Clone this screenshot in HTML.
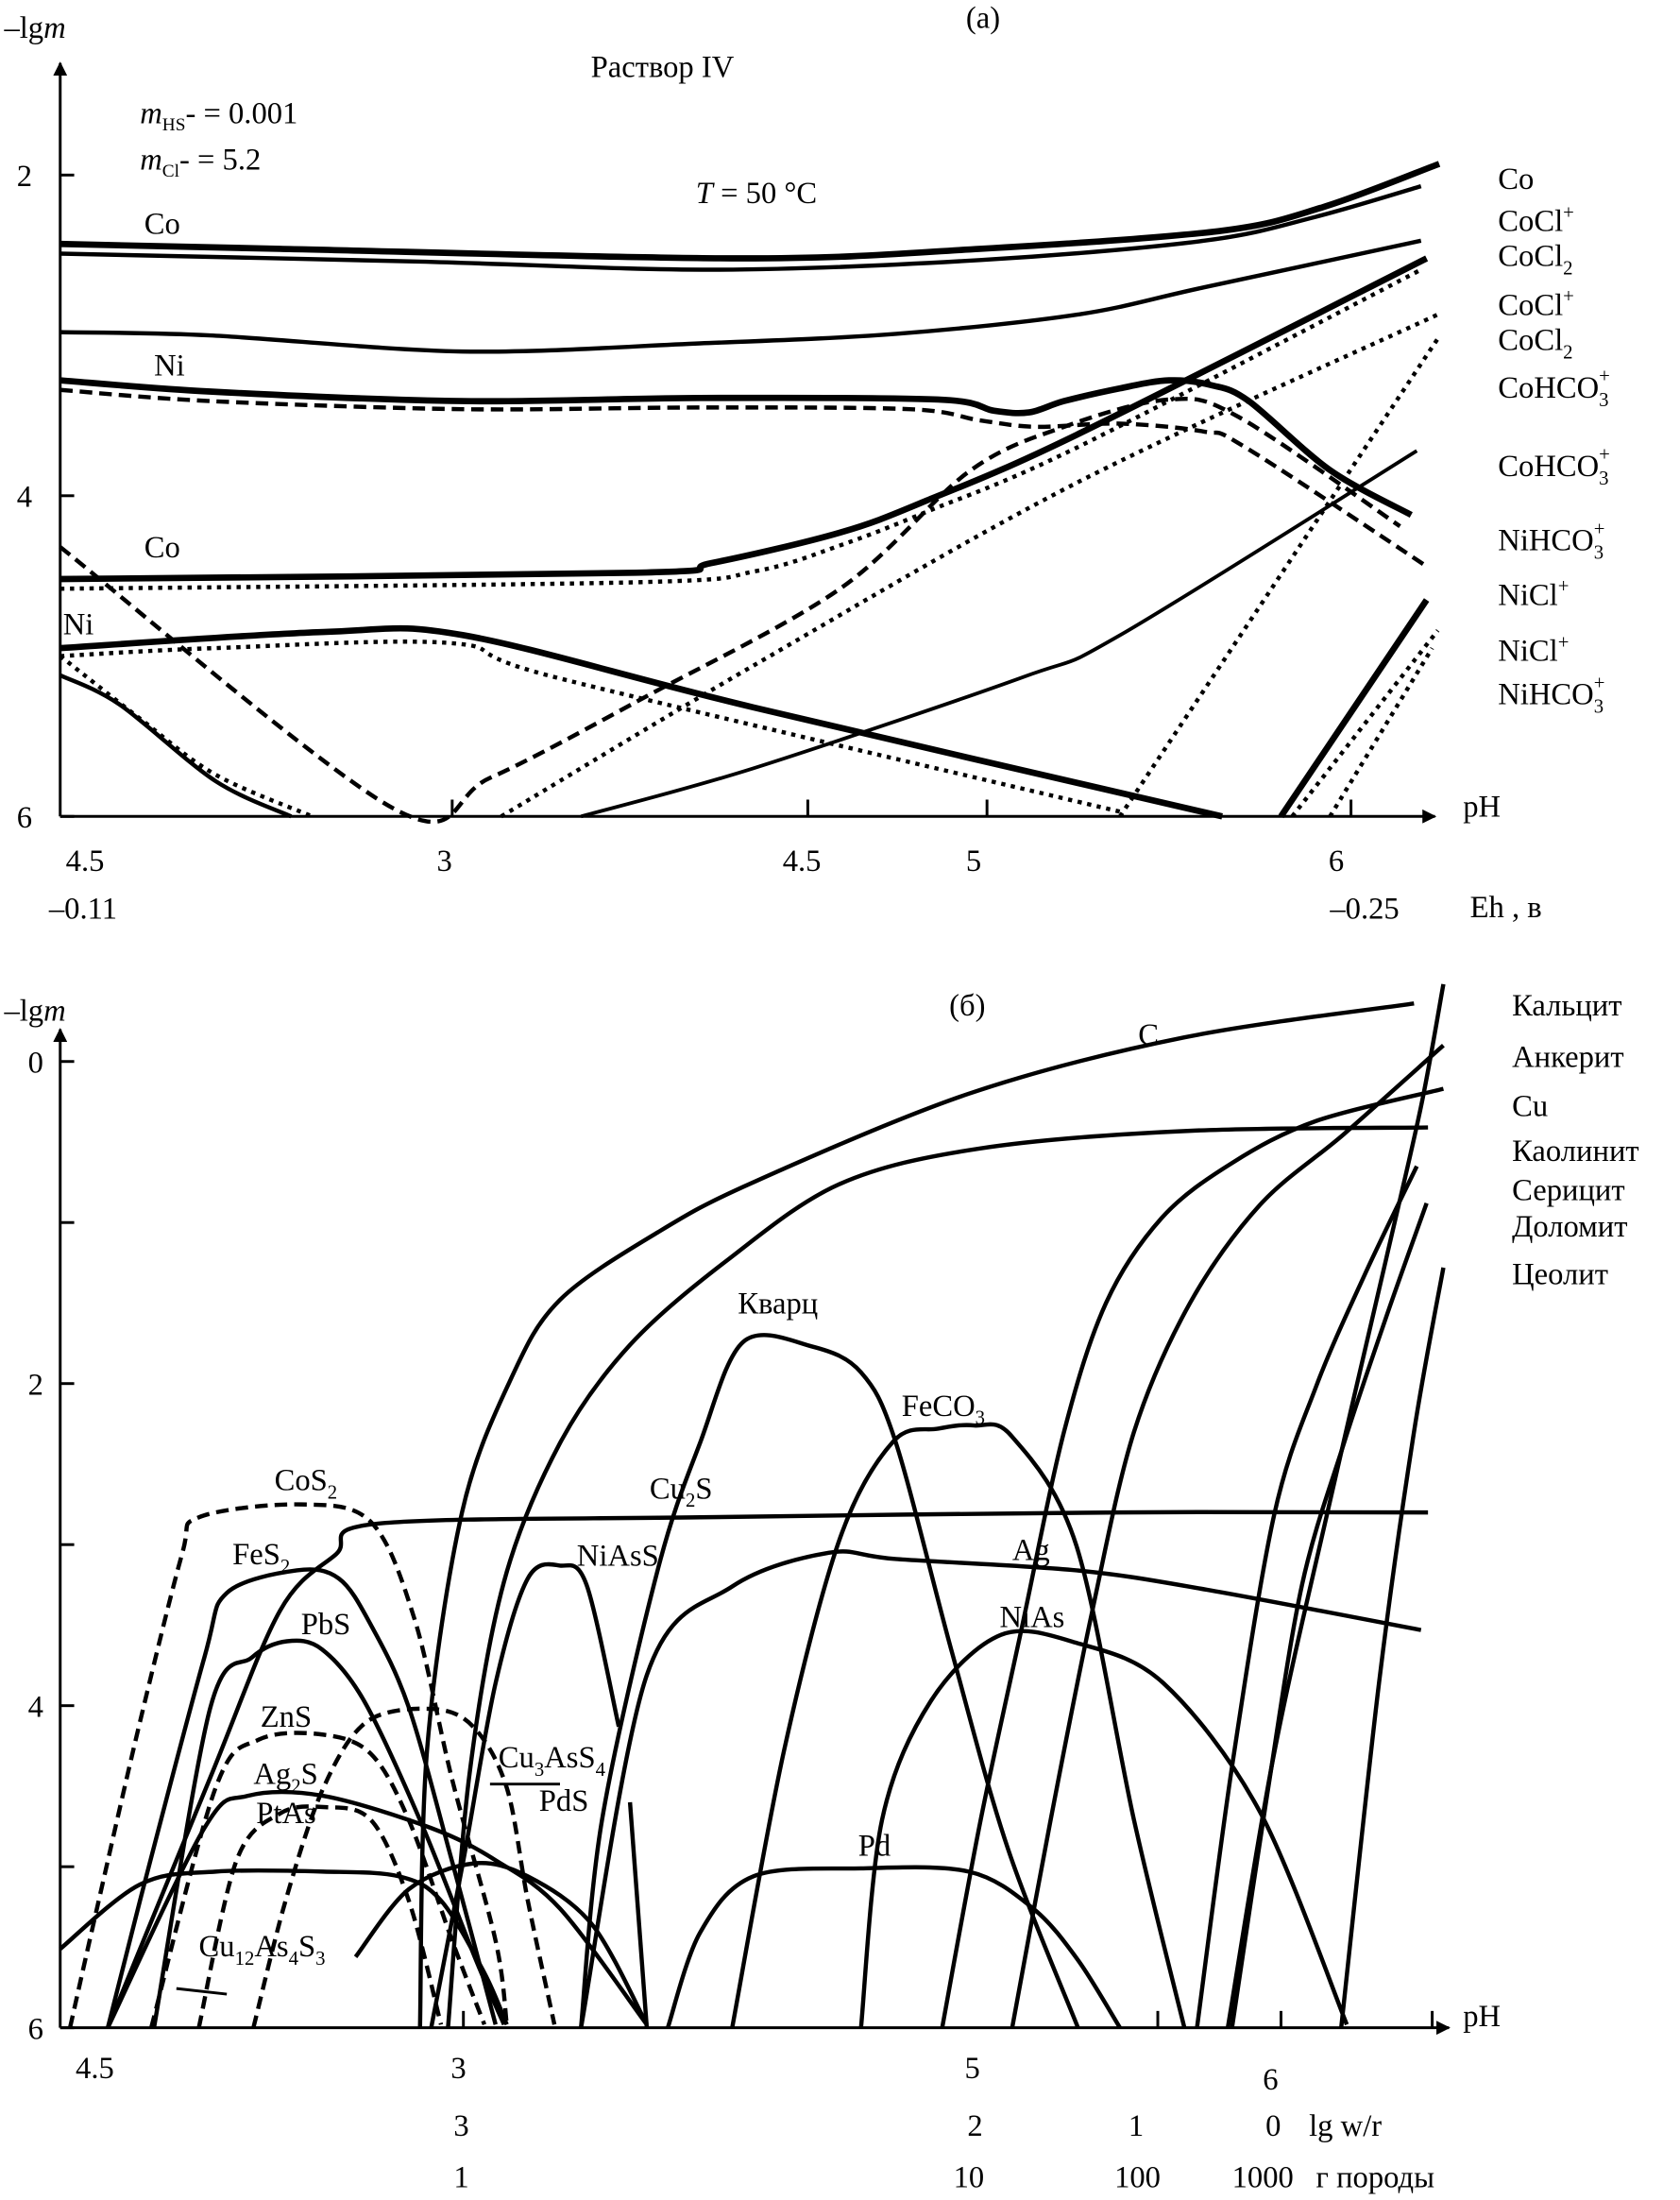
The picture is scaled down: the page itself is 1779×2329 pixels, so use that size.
<!DOCTYPE html>
<html><head><meta charset="utf-8"><style>
html,body{margin:0;padding:0;background:#fff}
svg{display:block}
text{font-family:"Liberation Serif","DejaVu Serif",serif;fill:#000}
</style></head><body>
<svg id="fig" width="1779" height="2329" viewBox="0 0 1200 1571" preserveAspectRatio="none" xmlns="http://www.w3.org/2000/svg">
<defs><marker id="arr" viewBox="0 0 10 10" refX="9" refY="5" markerWidth="10" markerHeight="10" markerUnits="userSpaceOnUse" orient="auto"><path d="M0,0 L10,5 L0,10 z" fill="#000"/></marker></defs>
<g id="chartA"></g>
<g id="chartB"></g>
<g font-size="22">
<text x="690" y="20">(a)</text>
<text x="3" y="27">–lg<tspan font-style="italic">m</tspan></text>
<text x="422" y="55">Раствор IV</text>
<text x="100" y="88"><tspan font-style="italic">m</tspan><tspan font-size="13" dy="5">HS</tspan><tspan dy="-5">- = 0.001</tspan></text>
<text x="100" y="121"><tspan font-style="italic">m</tspan><tspan font-size="13" dy="5">Cl</tspan><tspan dy="-5">- = 5.2</tspan></text>
<text x="497" y="145"><tspan font-style="italic">T</tspan> = 50 °C</text>
<text x="103" y="167">Co</text>
<text x="110" y="268">Ni</text>
<text x="103" y="398">Co</text>
<text x="45" y="453">Ni</text>
<g>
<text x="1070" y="135">Co</text>
<text x="1070" y="165">CoCl<tspan font-size="14" dy="-9">+</tspan></text>
<text x="1070" y="190">CoCl<tspan font-size="14" dy="6">2</tspan></text>
<text x="1070" y="225">CoCl<tspan font-size="14" dy="-9">+</tspan></text>
<text x="1070" y="250">CoCl<tspan font-size="14" dy="6">2</tspan></text>
<text x="1070" y="284">CoHCO<tspan font-size="14" dy="6">3</tspan><tspan font-size="14" dx="-7" dy="-17">+</tspan></text>
<text x="1070" y="340">CoHCO<tspan font-size="14" dy="6">3</tspan><tspan font-size="14" dx="-7" dy="-17">+</tspan></text>
<text x="1070" y="393">NiHCO<tspan font-size="14" dy="6">3</tspan><tspan font-size="14" dx="-7" dy="-17">+</tspan></text>
<text x="1070" y="432">NiCl<tspan font-size="14" dy="-9">+</tspan></text>
<text x="1070" y="472">NiCl<tspan font-size="14" dy="-9">+</tspan></text>
<text x="1070" y="503">NiHCO<tspan font-size="14" dy="6">3</tspan><tspan font-size="14" dx="-7" dy="-17">+</tspan></text>
</g>
<text x="1045" y="583">pH</text>
<text x="1050" y="655">Eh , в</text>
</g>
<g font-size="22">
<text x="678" y="725">(б)</text>
<text x="3" y="729">–lg<tspan font-style="italic">m</tspan></text>
<g>
<text x="1080" y="725">Кальцит</text>
<text x="1080" y="762">Анкерит</text>
<text x="1080" y="797">Cu</text>
<text x="1080" y="829">Каолинит</text>
<text x="1080" y="857">Серицит</text>
<text x="1080" y="883">Доломит</text>
<text x="1080" y="917">Цеолит</text>
</g>
<text x="813" y="746">C</text>
<text x="527" y="938">Кварц</text>
<text x="644" y="1011">FeCO<tspan font-size="14" dy="6">3</tspan></text>
<text x="464" y="1070">Cu<tspan font-size="14" dy="6">2</tspan><tspan dy="-6">S</tspan></text>
<text x="196" y="1064">CoS<tspan font-size="14" dy="6">2</tspan></text>
<text x="166" y="1117">FeS<tspan font-size="14" dy="6">2</tspan></text>
<text x="412" y="1118">NiAsS</text>
<text x="723" y="1114">Ag</text>
<text x="215" y="1167">PbS</text>
<text x="714" y="1162">NiAs</text>
<text x="186" y="1233">ZnS</text>
<text x="356" y="1262">Cu<tspan font-size="14" dy="6">3</tspan><tspan dy="-6">AsS</tspan><tspan font-size="14" dy="6">4</tspan></text>
<text x="181" y="1274">Ag<tspan font-size="14" dy="6">2</tspan><tspan dy="-6">S</tspan></text>
<text x="385" y="1293">PdS</text>
<text x="183" y="1302">PtAs</text>
<text x="613" y="1325">Pd</text>
<text x="142" y="1397">Cu<tspan font-size="14" dy="6">12</tspan><tspan dy="-6">As</tspan><tspan font-size="14" dy="6">4</tspan><tspan dy="-6">S</tspan><tspan font-size="14" dy="6">3</tspan></text>
<text x="1045" y="1447">pH</text>
<text x="935" y="1525">lg w/r</text>
<text x="940" y="1562">г  породы</text>
</g>
<script>
// ---------- Chart (a) data ----------
const aYTicks = [2, 4, 6];
const aXTickPos = [280, 534, 662, 922];
const aXLabelPos = [17, 282, 529, 660, 919];
const aXLabels = ["4.5", "3", "4.5", "5", "6"];
const aEhPos = [17, 932];
const aEhLabels = ["–0.11", "–0.25"];
const aCoX = [0,157,487,657,827,902,985];
const aCoY = [2.43,2.46,2.52,2.46,2.35,2.20,1.93];
const aCoClX = [0,257,467,657,817,897,972];
const aCoClY = [2.49,2.54,2.59,2.53,2.41,2.26,2.07];
const aCoCl2X = [0,107,287,457,597,727,817,972];
const aCoCl2Y = [2.98,3.00,3.10,3.05,2.99,2.87,2.70,2.41];
const aNiX = [0,107,287,457,627,667,692,717,757,792,822,849,907,965];
const aNiY = [3.28,3.35,3.41,3.39,3.40,3.47,3.48,3.41,3.33,3.28,3.31,3.41,3.84,4.12];
const aNiDashX = [0,107,287,457,607,657,697,757,817,847,976];
const aNiDashY = [3.34,3.41,3.46,3.45,3.46,3.53,3.57,3.55,3.60,3.70,4.44];
const aVX = [0,238,307,419,557,649,717,792,842,957];
const aVY = [4.32,5.95,5.76,5.25,4.58,3.85,3.57,3.40,3.51,4.19];
const aCoRiseX = [0,411,465,557,619,726,976];
const aCoRiseY = [4.52,4.48,4.42,4.23,4.03,3.62,2.52];
const aCoDotX = [0,411,497,557,619,726,972];
const aCoDotY = [4.58,4.54,4.47,4.31,4.10,3.70,2.59];
const aDot1X = [315,495,726,984];
const aDot1Y = [6.0,5.06,3.92,2.87];
const aDot2X = [757,984];
const aDot2Y = [6.0,3.02];
const aThinX = [372,495,688,757,969];
const aThinY = [6.0,5.70,5.13,4.87,3.72];
const aNiDescX = [0,188,288,495,830];
const aNiDescY = [4.95,4.85,4.87,5.32,6.0];
const aNiDescDotX = [0,111,280,357,757];
const aNiDescDotY = [5.0,4.95,4.92,5.14,5.97];
const aBLX = [0,42,111,165];
const aBLY = [5.12,5.30,5.78,6.0];
const aBLDotX = [0,57,111,180];
const aBLDotY = [5.0,5.39,5.74,6.0];
const aSteepX = [872,976];
const aSteepY = [6.0,4.65];
const aSteepDot1X = [880,984];
const aSteepDot1Y = [6.0,4.84];
const aSteepDot2X = [907,980];
const aSteepDot2Y = [6.0,4.95];

// ---------- Chart (b) data ----------
const bYTicks = [0, 2, 4, 6];
const bYMinor = [1, 3, 5];
const bXTickPos = [288, 784, 872, 980];
const bRow1Pos = [19, 287, 654, 867];
const bRow1Labels = ["4.5", "3", "5", "6"];
const bRow2Pos = [287, 654, 769, 867];
const bRow2Labels = ["3", "2", "1", "0"];
const bRow3Pos = [287, 644, 759, 843];
const bRow3Labels = ["1", "10", "100", "1000"];
const bCX = [257,262,287,322,357,427,495,649,803,967];
const bCY = [6.0,4.28,2.80,1.97,1.48,1.06,0.75,0.20,-0.15,-0.36];
const bPlatX = [277,292,317,357,407,477,557,657,807,977];
const bPlatY = [6.0,4.45,3.23,2.37,1.76,1.23,0.76,0.54,0.43,0.41];
const bQzX = [372,387,427,457,488,537,572,597,637,677,727];
const bQzY = [6.0,4.71,3.15,2.37,1.74,1.77,1.93,2.37,3.67,4.89,6.0];
const bFeCO3X = [480,517,557,595,627,653,680,726,767,803];
const bFeCO3Y = [6.0,4.28,2.96,2.36,2.28,2.26,2.33,3.01,4.71,6.0];
const bCu2SX = [34,107,157,197,227,457,757,977];
const bCu2SY = [6.0,4.45,3.41,3.06,2.87,2.83,2.80,2.80];
const bCoS2X = [7,27,57,87,99,172,222,253,280,311,319];
const bCoS2Y = [6.0,5.23,4.10,3.06,2.83,2.75,2.86,3.46,4.46,5.46,5.98];
const bFeS2X = [34,57,103,119,169,199,222,249,280,311];
const bFeS2Y = [6.0,5.21,3.70,3.30,3.16,3.21,3.50,4.01,4.97,5.98];
const bPbSX = [67,107,137,162,187,217,257,297,317];
const bPbSY = [6.0,4.02,3.70,3.60,3.65,3.97,4.71,5.58,5.98];
const bNiAsSX = [265,288,311,334,357,376,399];
const bNiAsSY = [6.0,4.96,3.86,3.21,3.13,3.25,4.13];
const bTailX = [407,419];
const bTailY = [4.60,6.0];
const bAgX = [372,419,480,549,597,726,819,972];
const bAgY = [6.0,3.81,3.26,3.05,3.09,3.16,3.28,3.53];
const bNiAsX = [572,587,622,672,726,788,857,919];
const bNiAsY = [6.0,4.71,3.97,3.56,3.61,3.86,4.66,5.98];
const bPdX = [434,457,495,572,649,695,727,757];
const bPdY = [6.0,5.41,5.06,5.01,5.03,5.26,5.58,6.0];
const bZnSX = [65,111,142,188,222,249,280,303];
const bZnSY = [6.0,4.51,4.21,4.18,4.30,4.71,5.46,5.98];
const bAg2SX = [34,103,134,188,265,311,357,419];
const bAg2SY = [6.0,4.76,4.56,4.56,4.76,4.96,5.26,5.98];
const bDashX = [99,126,157,188,222,249,272];
const bDashY = [6.0,4.96,4.67,4.63,4.71,5.21,5.98];
const bPtAsX = [0,57,111,188,242,272,303,319];
const bPtAsY = [5.51,5.11,5.03,5.03,5.06,5.21,5.66,5.98];
const bCu3X = [138,161,188,219,265,295,319,334,353];
const bCu3Y = [6.0,5.21,4.51,4.10,4.02,4.13,4.51,5.21,5.98];
const bPdSX = [211,249,295,334,380,419];
const bPdSY = [5.56,5.14,4.98,5.06,5.36,5.98];
const bL1X = [630,657,687,717,747,787,837,897,988];
const bL1Y = [6.0,4.73,3.51,2.30,1.50,0.97,0.63,0.37,0.17];
const bL2X = [680,707,737,767,807,857,917,988];
const bL2Y = [6.0,4.73,3.42,2.30,1.50,0.89,0.45,-0.10];
const bL3X = [812,837,867,897,932,969];
const bL3Y = [6.0,4.38,2.82,2.02,1.32,0.65];
const bL4X = [837,862,887,917,947,976];
const bL4Y = [6.0,4.56,3.25,2.37,1.59,0.88];
const bL5X = [915,942,967,988];
const bL5Y = [6.0,3.86,2.30,1.28];
const bLKX = [834,867,907,947,972,988];
const bLKY = [6.0,4.30,2.73,1.23,0.28,-0.48];

const NS = "http://www.w3.org/2000/svg";
const ax = v => 43 + v;                 // x axis function (both panels)
const ayA = v => 125 + (v - 2) * 114.5; // y axis panel a
const ayB = v => 758 + v * 115;         // y axis panel b

function mk(tag, parent, attrs) {
  const e = document.createElementNS(NS, tag);
  for (const k in attrs) e.setAttribute(k, attrs[k]);
  parent.appendChild(e);
  return e;
}
function pathD(xs, ys, fy) {
  const p = xs.map((x, i) => [ax(x), fy(ys[i])]);
  if (p.length < 3) return "M" + p.map(q => q[0].toFixed(1) + "," + q[1].toFixed(1)).join(" L");
  let d = "M" + p[0][0].toFixed(1) + "," + p[0][1].toFixed(1);
  for (let i = 0; i < p.length - 1; i++) {
    const p0 = p[i - 1] || p[i], p1 = p[i], p2 = p[i + 1], p3 = p[i + 2] || p2;
    const t = 0.16;
    const c1 = [p1[0] + (p2[0] - p0[0]) * t, p1[1] + (p2[1] - p0[1]) * t];
    const c2 = [p2[0] - (p3[0] - p1[0]) * t, p2[1] - (p3[1] - p1[1]) * t];
    d += " C" + c1.map(v => v.toFixed(1)).join(",") + " " + c2.map(v => v.toFixed(1)).join(",") + " " + p2.map(v => v.toFixed(1)).join(",");
  }
  return d;
}
const STY = {
  thick: {w: 4.5, dash: null},
  solid: {w: 3, dash: null},
  thin: {w: 2.6, dash: null},
  dash: {w: 3, dash: "9,5"},
  dot: {w: 3, dash: "3,4"},
  dashdot: {w: 2.6, dash: "10,5,3,5"}
};
function series(g, xs, ys, fy, style, name) {
  const s = STY[style];
  const el = mk("path", g, {d: pathD(xs, ys, fy), fill: "none", stroke: "#000", "stroke-width": s.w, "stroke-linejoin": "round"});
  if (s.dash) el.setAttribute("stroke-dasharray", s.dash);
  
  
}
function txt(g, x, y, s, name) {
  const t = mk("text", g, {x: x, y: y, "font-size": 22});
  t.textContent = s;
  
  
}

// ---- Panel a axes
const gA = document.getElementById("chartA");
const yaxA = mk("line", gA, {x1: 43, y1: ayA(6), x2: 43, y2: 45, stroke: "#000", "stroke-width": 2, "marker-end": "url(#arr)"});


const xaxA = mk("line", gA, {x1: 43, y1: ayA(6), x2: 1025, y2: ayA(6), stroke: "#000", "stroke-width": 2, "marker-end": "url(#arr)"});


aYTicks.forEach(v => {
  const l = mk("line", gA, {x1: 43, x2: 53, y1: ayA(v), y2: ayA(v), stroke: "#000", "stroke-width": 2});
  
  
  txt(gA, 12, ayA(v) + 8, String(v), 'y-tick-label-a');
});
aXTickPos.forEach(v => {
  const l = mk("line", gA, {x1: ax(v), x2: ax(v), y1: ayA(6), y2: ayA(6) - 12, stroke: "#000", "stroke-width": 2});
  
  
});
aXLabels.forEach((s, i) => txt(gA, ax(aXLabelPos[i]) - 13, 622, s, 'x-tick-label-a'));
aEhLabels.forEach((s, i) => txt(gA, ax(aEhPos[i]) - 25, 656, s, 'eh-tick-label'));

series(gA, aCoX, aCoY, ayA, "thick", "co-line");
series(gA, aCoClX, aCoClY, ayA, "solid", "cocl-line");
series(gA, aCoCl2X, aCoCl2Y, ayA, "solid", "cocl2-line");
series(gA, aNiX, aNiY, ayA, "thick", "ni-line");
series(gA, aNiDashX, aNiDashY, ayA, "dash", "ni-dashed-line");
series(gA, aVX, aVY, ayA, "dash", "v-dashed-line");
series(gA, aCoRiseX, aCoRiseY, ayA, "thick", "co-rising-line");
series(gA, aCoDotX, aCoDotY, ayA, "dot", "co-dotted-line");
series(gA, aDot1X, aDot1Y, ayA, "dot", "dotted-rising-line");
series(gA, aDot2X, aDot2Y, ayA, "dot", "dotted-steep-line");
series(gA, aThinX, aThinY, ayA, "thin", "thin-rising-line");
series(gA, aNiDescX, aNiDescY, ayA, "thick", "ni-descending-line");
series(gA, aNiDescDotX, aNiDescDotY, ayA, "dot", "ni-descending-dotted");
series(gA, aBLX, aBLY, ayA, "solid", "bottom-left-line");
series(gA, aBLDotX, aBLDotY, ayA, "dot", "bottom-left-dotted");
series(gA, aSteepX, aSteepY, ayA, "thick", "steep-right-line");
series(gA, aSteepDot1X, aSteepDot1Y, ayA, "dot", "steep-right-dotted-1");
series(gA, aSteepDot2X, aSteepDot2Y, ayA, "dot", "steep-right-dotted-2");

// ---- Panel b axes
const gB = document.getElementById("chartB");
const yaxB = mk("line", gB, {x1: 43, y1: ayB(6), x2: 43, y2: 735, stroke: "#000", "stroke-width": 2, "marker-end": "url(#arr)"});


const xaxB = mk("line", gB, {x1: 43, y1: ayB(6), x2: 1035, y2: ayB(6), stroke: "#000", "stroke-width": 2, "marker-end": "url(#arr)"});


bYTicks.forEach(v => {
  const l = mk("line", gB, {x1: 43, x2: 53, y1: ayB(v), y2: ayB(v), stroke: "#000", "stroke-width": 2});
  
  
  txt(gB, 20, ayB(v) + 8, String(v), 'y-tick-label-b');
});
bYMinor.forEach(v => {
  const l = mk("line", gB, {x1: 43, x2: 53, y1: ayB(v), y2: ayB(v), stroke: "#000", "stroke-width": 2});
  
  
});
bXTickPos.forEach(v => {
  const l = mk("line", gB, {x1: ax(v), x2: ax(v), y1: ayB(6), y2: ayB(6) - 12, stroke: "#000", "stroke-width": 2});
  
  
});
bRow1Labels.forEach((s, i) => txt(gB, ax(bRow1Pos[i]) - 8, i === 3 ? 1492 : 1484, s, 'ph-tick-label-b'));
bRow2Labels.forEach((s, i) => txt(gB, ax(bRow2Pos[i]) - 6, 1525, s, 'lg-wr-tick-label'));
bRow3Labels.forEach((s, i) => txt(gB, ax(bRow3Pos[i]) - 6, 1562, s, 'rock-mass-tick-label'));

series(gB, bCX, bCY, ayB, "solid", "calcite-c-line");
series(gB, bPlatX, bPlatY, ayB, "solid", "plateau-line");
series(gB, bQzX, bQzY, ayB, "solid", "quartz-line");
series(gB, bFeCO3X, bFeCO3Y, ayB, "solid", "feco3-line");
series(gB, bCu2SX, bCu2SY, ayB, "solid", "cu2s-line");
series(gB, bCoS2X, bCoS2Y, ayB, "dash", "cos2-line");
series(gB, bFeS2X, bFeS2Y, ayB, "solid", "fes2-line");
series(gB, bPbSX, bPbSY, ayB, "solid", "pbs-line");
series(gB, bNiAsSX, bNiAsSY, ayB, "solid", "niass-line");
series(gB, bTailX, bTailY, ayB, "solid", "niass-tail-line");
series(gB, bAgX, bAgY, ayB, "solid", "ag-line");
series(gB, bNiAsX, bNiAsY, ayB, "solid", "nias-line");
series(gB, bPdX, bPdY, ayB, "solid", "pd-line");
series(gB, bZnSX, bZnSY, ayB, "dash", "zns-line");
series(gB, bAg2SX, bAg2SY, ayB, "solid", "ag2s-line");
series(gB, bDashX, bDashY, ayB, "dash", "ag2s-dashed-line");
series(gB, bPtAsX, bPtAsY, ayB, "solid", "ptas-line");
series(gB, bCu3X, bCu3Y, ayB, "dash", "cu3ass4-line");
series(gB, bPdSX, bPdSY, ayB, "solid", "pds-line");
series(gB, bL1X, bL1Y, ayB, "solid", "cu-steep-line");
series(gB, bL2X, bL2Y, ayB, "solid", "ankerite-line");
series(gB, bL3X, bL3Y, ayB, "solid", "sericite-line");
series(gB, bL4X, bL4Y, ayB, "solid", "dolomite-line");
series(gB, bL5X, bL5Y, ayB, "solid", "zeolite-line");
series(gB, bLKX, bLKY, ayB, "solid", "calcite-steep-line");
const ld1 = mk("line", gB, {x1: 350, y1: 1274, x2: 400, y2: 1274, stroke: "#000", "stroke-width": 2});


const ld2 = mk("line", gB, {x1: 126, y1: 1420, x2: 162, y2: 1424, stroke: "#000", "stroke-width": 2});


</script>
</svg>
</body></html>
